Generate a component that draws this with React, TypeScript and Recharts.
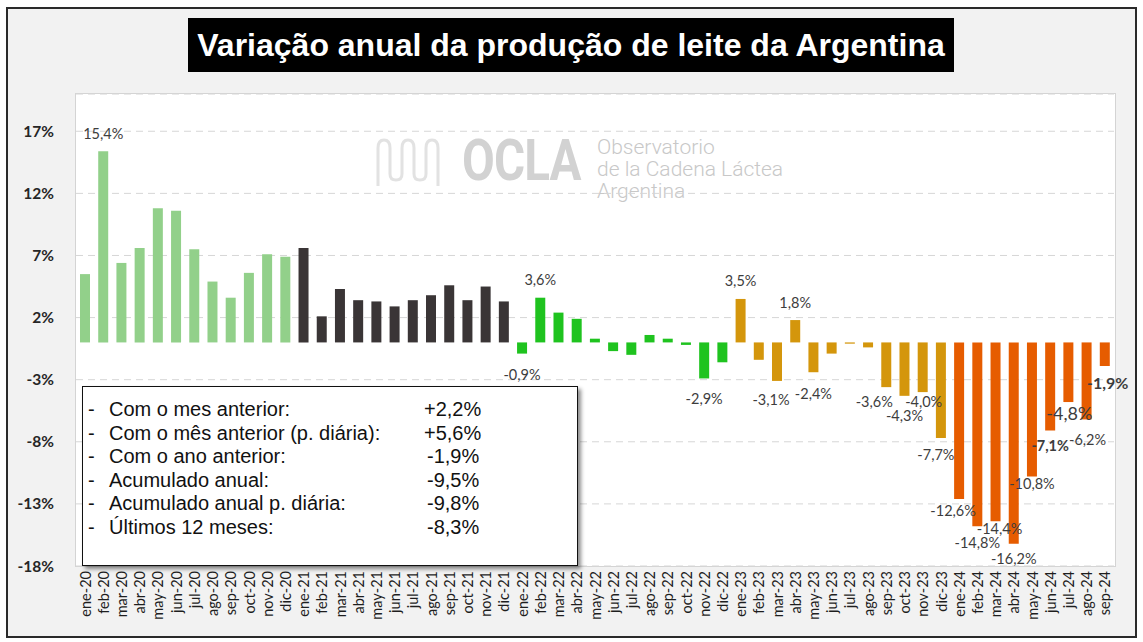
import React from 'react';
import { BarChart, Bar, XAxis, YAxis, CartesianGrid, Cell, LabelList } from 'recharts';

const months = [
  'ene-20', 'feb-20', 'mar-20', 'abr-20', 'may-20', 'jun-20', 'jul-20', 'ago-20', 'sep-20', 'oct-20', 'nov-20', 'dic-20',
  'ene-21', 'feb-21', 'mar-21', 'abr-21', 'may-21', 'jun-21', 'jul-21', 'ago-21', 'sep-21', 'oct-21', 'nov-21', 'dic-21',
  'ene-22', 'feb-22', 'mar-22', 'abr-22', 'may-22', 'jun-22', 'jul-22', 'ago-22', 'sep-22', 'oct-22', 'nov-22', 'dic-22',
  'ene-23', 'feb-23', 'mar-23', 'abr-23', 'may-23', 'jun-23', 'jul-23', 'ago-23', 'sep-23', 'oct-23', 'nov-23', 'dic-23',
  'ene-24', 'feb-24', 'mar-24', 'abr-24', 'may-24', 'jun-24', 'jul-24', 'ago-24', 'sep-24',
];

const variation = [
  5.5, 15.4, 6.4, 7.6, 10.8, 10.6, 7.5, 4.9, 3.6, 5.6, 7.1, 6.9,
  7.6, 2.1, 4.3, 3.4, 3.3, 2.9, 3.4, 3.8, 4.6, 3.4, 4.5, 3.3,
  -0.9, 3.6, 2.4, 1.9, 0.3, -0.7, -1.0, 0.6, 0.3, -0.2, -2.9, -1.6,
  3.5, -1.4, -3.1, 1.8, -2.4, -0.9, -0.1, -0.4, -3.6, -4.3, -4.0, -7.7,
  -12.6, -14.8, -14.4, -16.2, -10.8, -7.1, -4.8, -6.2, -1.9,
];

// months that carry a value label
const labeledMonths = [
  'feb-20', 'ene-22', 'feb-22', 'nov-22', 'ene-23', 'mar-23', 'abr-23', 'may-23',
  'sep-23', 'oct-23', 'nov-23', 'dic-23', 'ene-24', 'feb-24', 'mar-24', 'abr-24',
  'may-24', 'jun-24', 'jul-24', 'ago-24', 'sep-24',
];

const yTicks = [-18, -13, -8, -3, 2, 7, 12, 17];

const summaryLabels = [
  'Com o mes anterior:',
  'Com o mês anterior (p. diária):',
  'Com o ano anterior:',
  'Acumulado anual:',
  'Acumulado anual p. diária:',
  'Últimos 12 meses:',
];
const summaryValues = ['+2,2%', '+5,6%', '-1,9%', '-9,5%', '-9,8%', '-8,3%'];

const yearColors: Record<string, string> = {
  '20': '#92d08a',
  '21': '#3a3536',
  '22': '#1fc31f',
  '23': '#d4960c',
  '24': '#e65c00',
};

const data = months.map((m, i) => ({
  month: m,
  value: variation[i],
  label: labeledMonths.includes(m) ? `${variation[i].toFixed(1).replace('.', ',')}%` : '',
}));

// small label nudges (dx, dy) to follow the original placement
const nudges: Record<string, [number, number]> = {
  'ene-22': [0, 6],
  'nov-22': [0, 5],
  'mar-23': [-6, 4],
  'may-23': [0, 6],
  'sep-23': [-12, -1],
  'oct-23': [0, 5],
  'nov-23': [1, -6],
  'dic-23': [-5, 1],
  'ene-24': [-6, -3],
  'feb-24': [0, 1],
  'mar-24': [4, -8],
  'may-24': [0, -8],
  'jul-24': [1, -4],
  'ago-24': [1, 5],
  'sep-24': [3, 1],
};

const font = 'Lato, "Open Sans", sans-serif';

const BarLabel = (props: any) => {
  const { x, y, width, height, value, index } = props;
  if (!value) return null;
  const m = months[index];
  const top = Math.min(y, y + height);
  const bottom = Math.max(y, y + height);
  const neg = variation[index] < 0;
  const [dx, dy] = nudges[m] || [0, 0];
  const cx = x + width / 2 + dx;
  const cy = (neg ? bottom + 15 : top - 18) + dy;
  let size = 14.5;
  let weight = 400;
  if (m === 'jun-24') weight = 700;
  if (m === 'jul-24') size = 18;
  if (m === 'sep-24') {
    size = 16;
    weight = 700;
  }
  return (
    <text x={cx} y={cy} textAnchor="middle" dominantBaseline="central" fontSize={size} fontWeight={weight} fill="#3d3d3d" fontFamily={font}>
      {value}
    </text>
  );
};

const MonthTick = (props: any) => {
  const { x, y, payload } = props;
  return (
    <text transform={`translate(${x},${y}) rotate(-90)`} textAnchor="end" dominantBaseline="central" fontSize={14.5} fill="#1e1e1e" fontFamily={font}>
      {payload.value}
    </text>
  );
};

const Watermark = () => (
  <div style={{ position: 'absolute', left: 372, top: 130, width: 420, height: 80, color: '#d2d2d2' }}>
    <svg width={78} height={56} style={{ position: 'absolute', left: 0, top: 4 }}>
      <path
        d="M6,52 V14 Q6,6 12,6 Q18,6 18,14 V40 Q18,46 24,46 Q30,46 30,40 V14 Q30,6 36,6 Q42,6 42,14 V40 Q42,46 48,46 Q54,46 54,40 V14 Q54,6 60,6 Q66,6 66,14 V52"
        fill="none"
        stroke="#e2e2e2"
        strokeWidth={3}
      />
    </svg>
    <div style={{ position: 'absolute', left: 90, top: 0, fontFamily: 'Roboto, sans-serif', fontWeight: 700, fontSize: 58, lineHeight: '60px', transform: 'scaleX(0.82)', transformOrigin: 'left', letterSpacing: -1 }}>
      OCLA
    </div>
    <div style={{ position: 'absolute', left: 225, top: 6, fontFamily: 'Roboto, sans-serif', fontWeight: 300, fontSize: 21, lineHeight: '22px', color: '#c8c8c8' }}>
      Observatorio
      <br />
      de la Cadena Láctea
      <br />
      Argentina
    </div>
  </div>
);

const App: React.FC = () => {
  return (
    <div style={{ position: 'absolute', left: 0, top: 0, width: 1143, height: 642, background: '#ffffff' }}>
      <div style={{ position: 'absolute', left: 6, top: 7, width: 1127, height: 627, background: '#f2f2f2', border: '2px solid #2a2a2a' }} />
      <div style={{ position: 'absolute', left: 188, top: 18, width: 766, height: 54, background: '#000', color: '#fff', fontFamily: '"Liberation Sans", Arial, sans-serif', fontWeight: 700, fontSize: 32, lineHeight: '54px', textAlign: 'center', whiteSpace: 'nowrap' }}>
        Variação anual da produção de leite da Argentina
      </div>
      <div style={{ position: 'absolute', left: 75, top: 93, width: 1039, height: 472, background: '#ffffff', border: '1px solid #d4d4d4' }} />
      <Watermark />
      <div style={{ position: 'absolute', left: 0, top: 0 }}>
        <BarChart width={1143} height={642} data={data} margin={{ top: 94, right: 29, bottom: 6, left: 16 }} barCategoryGap="22%">
          <CartesianGrid vertical={false} strokeDasharray="7 5" stroke="#d6d6d6" />
          <XAxis dataKey="month" interval={0} axisLine={false} tickLine={false} tickSize={0} tickMargin={5} height={70} tick={<MonthTick />} />
          <YAxis
            domain={[-18, 20]}
            ticks={yTicks}
            width={60}
            axisLine={false}
            tickLine={false}
            tickMargin={16}
            tickFormatter={(v: number) => `${v}%`}
            tick={{ fontSize: 15.5, fontWeight: 700, fill: '#262626', fontFamily: font }}
          />
          <Bar dataKey="value" isAnimationActive={false}>
            {data.map((d) => (
              <Cell key={d.month} fill={yearColors[d.month.slice(-2)]} />
            ))}
            <LabelList dataKey="label" content={<BarLabel />} />
          </Bar>
        </BarChart>
      </div>
      <div style={{ position: 'absolute', left: 82, top: 386, width: 494, height: 178, background: '#fff', border: '1.5px solid #111', boxShadow: '3px 3px 4px rgba(0,0,0,0.45)', fontFamily: '"Liberation Sans", Arial, sans-serif', fontSize: 20, color: '#111' }}>
        {summaryLabels.map((t, i) => (
          <div key={t} style={{ position: 'absolute', top: 10 + i * 23.6, left: 0, height: 24, lineHeight: '24px', width: '100%' }}>
            <span style={{ position: 'absolute', left: 5 }}>-</span>
            <span style={{ position: 'absolute', left: 26 }}>{t}</span>
            <span style={{ position: 'absolute', left: 341 + (summaryValues[i].startsWith('+') ? 0 : 3) }}>{summaryValues[i]}</span>
          </div>
        ))}
      </div>
    </div>
  );
};

export default App;
